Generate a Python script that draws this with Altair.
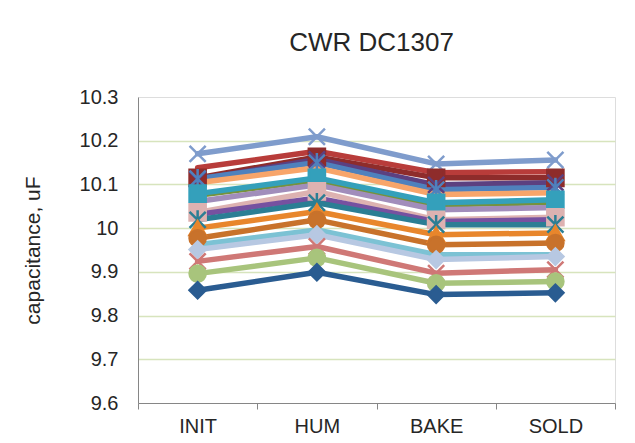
import altair as alt
import pandas as pd

stages = ["INIT", "HUM", "BAKE", "SOLD"]

series_names = [f"S{i}" for i in range(1, 20)]
series_colors = [
    "#7F9CCC", "#B83C3A", "#8E2C2B", "#5C4080", "#4F81BD", "#F8A56A",
    "#76923C", "#34A0BB", "#A18DBB", "#DDB2B1", "#7651A0", "#2B7E94",
    "#E8862C", "#C8722B", "#7CC2D4", "#B7C8E2", "#CF7876", "#A8C47C",
    "#2A5C91",
]
series_markers = [
    "x", "none", "square", "x", "asterisk", "none",
    "none", "square", "none", "square", "none", "asterisk",
    "triangle", "circle", "none", "diamond", "x", "circle",
    "diamond",
]
series_values = [
    [10.170, 10.209, 10.147, 10.156],
    [10.138, 10.176, 10.127, 10.129],
    [10.115, 10.163, 10.115, 10.115],
    [10.111, 10.157, 10.099, 10.104],
    [10.113, 10.150, 10.088, 10.093],
    [10.104, 10.138, 10.077, 10.081],
    [10.075, 10.110, 10.053, 10.059],
    [10.079, 10.115, 10.058, 10.065],
    [10.061, 10.099, 10.042, 10.047],
    [10.036, 10.084, 10.019, 10.025],
    [10.031, 10.069, 10.015, 10.019],
    [10.019, 10.058, 10.008, 10.008],
    [10.000, 10.038, 9.985, 9.989],
    [9.977, 10.019, 9.962, 9.966],
    [9.962, 9.996, 9.939, 9.939],
    [9.951, 9.985, 9.928, 9.935],
    [9.924, 9.958, 9.897, 9.905],
    [9.896, 9.932, 9.874, 9.878],
    [9.858, 9.899, 9.848, 9.852],
]
y_ticks = [9.6, 9.7, 9.8, 9.9, 10.0, 10.1, 10.2, 10.3]

marker_keys = ["x", "asterisk", "square", "circle", "diamond", "triangle"]
marker_shapes = [
    "M-1,-1L1,1M-1,1L1,-1",
    "M-1,-1L1,1M-1,1L1,-1M0,-1.2L0,1.2",
    "square",
    "circle",
    "diamond",
    "triangle-up",
]
marker_sizes = [260, 260, 270, 280, 290, 260]

rows = []
for order, (name, marker, vals) in enumerate(zip(series_names, series_markers, series_values)):
    for stage, v in zip(stages, vals):
        rows.append({"series": name, "stage": stage, "value": v,
                     "marker": marker, "order": order})
df = pd.DataFrame(rows)

FONT = "Liberation Sans"
GRID = "#D7E4BD"
AXIS = "#868686"

x_enc = alt.X(
    "stage:N", sort=stages,
    scale=alt.Scale(type="band", paddingInner=0, paddingOuter=0),
    bandPosition=0.5,
    axis=alt.Axis(title=None, labelAngle=0, grid=False, tickBand="extent",
                  tickSize=6, tickColor=AXIS, domainColor=AXIS,
                  labelPadding=7, labelFontSize=20, labelFont=FONT,
                  labelColor="#262626"),
)
y_enc = alt.Y(
    "value:Q",
    scale=alt.Scale(domain=[9.6, 10.3], nice=False, zero=False),
    axis=alt.Axis(title="capacitance, uF", values=y_ticks, format=".3~g",
                  ticks=False, labelPadding=20, labelFontSize=20,
                  labelFont=FONT, labelColor="#262626",
                  domainColor=AXIS,
                  gridColor={"condition": {"test": "datum.value < 9.65 || datum.value > 10.25",
                                           "value": "transparent"},
                             "value": GRID},
                  gridWidth=1.5,
                  titleFont=FONT, titleFontSize=21, titleFontWeight="normal",
                  titleColor="#262626", titleX=-95, titleY=153,
                  titleAngle=270, titleBaseline="bottom", titleAlign="center"),
)
color_scale = alt.Scale(domain=series_names, range=series_colors)

lines = alt.Chart(df).mark_line(strokeWidth=5.5, strokeCap="round", strokeJoin="round").encode(
    x=x_enc, y=y_enc,
    color=alt.Color("series:N", scale=color_scale, legend=None),
    order=alt.Order("order:Q"),
)

points = alt.Chart(df).transform_filter(
    "datum.marker != 'none'"
).mark_point(filled=True, strokeWidth=2.5, opacity=1).encode(
    x=x_enc, y=y_enc,
    fill=alt.Fill("series:N", scale=color_scale, legend=None),
    stroke=alt.Stroke("series:N", scale=color_scale, legend=None),
    shape=alt.Shape("marker:N", scale=alt.Scale(domain=marker_keys, range=marker_shapes),
                    legend=None),
    size=alt.Size("marker:N", scale=alt.Scale(domain=marker_keys, range=marker_sizes),
                  legend=None),
)

chart = alt.layer(lines, points).properties(
    width=477, height=306,
    title=alt.TitleParams("CWR DC1307", font=FONT, fontSize=26, fontWeight="normal",
                          color="#262626", anchor="middle", frame="group",
                          baseline="alphabetic", offset=10, dx=-5),
    padding={"left": 130, "top": 89, "right": 12, "bottom": 38},
    autosize="none",
).configure_view(stroke=AXIS, strokeWidth=1.2).configure(background="white")

chart.save("out.html", embed_options={"renderer": "svg", "actions": False})
